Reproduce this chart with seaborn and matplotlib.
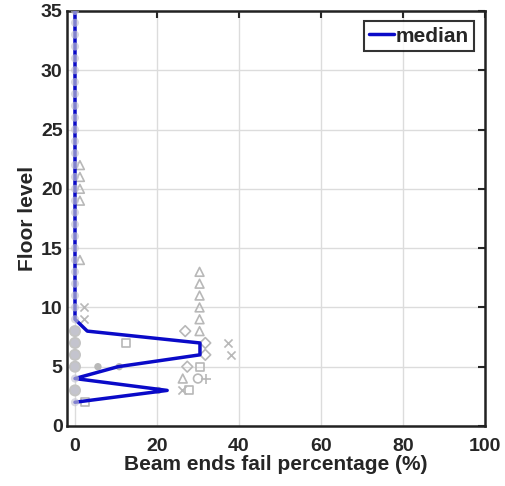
import matplotlib
matplotlib.use("Agg")
import matplotlib.pyplot as plt
import seaborn as sns
import numpy as np
import pandas as pd

# median curve per floor
median_floor = list(range(2, 36))
median_pct = [0, 22.5, 0, 10.5, 30.5, 30.5, 3] + [0] * 27

# individual record points (grey)
zero_floor = list(range(2, 36))
zero_pct = [0] * len(zero_floor)
big_floor = [3, 5, 6, 7, 8]
big_pct = [0, 0, 0, 0, 0]
dot_floor = [5, 5, 3]
dot_pct = [5.6, 10.8, 20.3]
tri_floor = [8, 9, 10, 11, 12, 13, 4, 14, 19, 20, 21, 22]
tri_pct = [30.4, 30.4, 30.4, 30.4, 30.4, 30.4, 26.3, 1.2, 1.2, 1.2, 1.2, 1.2]
dia_floor = [8, 7, 6, 5]
dia_pct = [26.9, 31.8, 31.8, 27.4]
sq_floor = [7, 5, 2, 3]
sq_pct = [12.4, 30.6, 2.4, 27.9]
ring_floor = [4]
ring_pct = [30.0]
plus_floor = [4]
plus_pct = [32.0]
x_floor = [10, 9, 7, 6, 3]
x_pct = [2.3, 2.3, 37.4, 38.0, 26.1]

sns.set_style("white")
plt.rcParams['font.family'] = ['Liberation Sans', 'DejaVu Sans']
plt.rcParams['font.weight'] = 'bold'

fig = plt.figure(figsize=(5.06, 4.86), dpi=100)
ax = fig.add_axes([0.132, 0.1235, 0.826, 0.854])

grey = '#b8b8b8'
hollow = dict(facecolor='none', edgecolor=grey, linewidth=1.2, s=40, zorder=2, legend=False)
sns.scatterplot(x=tri_pct, y=tri_floor, marker='^', ax=ax, **hollow)
sns.scatterplot(x=dia_pct, y=dia_floor, marker='D', ax=ax, **dict(hollow, s=30))
sns.scatterplot(x=sq_pct, y=sq_floor, marker='s', ax=ax, **dict(hollow, s=32))
sns.scatterplot(x=ring_pct, y=ring_floor, marker='o', ax=ax, **hollow)
sns.scatterplot(x=plus_pct, y=plus_floor, marker='+', color=grey, s=55, linewidth=1.2, ax=ax, zorder=2, legend=False)
sns.scatterplot(x=x_pct, y=x_floor, marker='x', color=grey, s=34, linewidth=1.2, ax=ax, zorder=2, legend=False)
sns.scatterplot(x=dot_pct, y=dot_floor, marker='o', color=grey, s=28, edgecolor='none', ax=ax, zorder=2, legend=False)
sns.scatterplot(x=big_pct, y=big_floor, marker='o', color='#c4c4c4', s=75, edgecolor='none', ax=ax, zorder=2, legend=False)

sns.lineplot(x=median_pct, y=median_floor, sort=False, orient='y', color='#0a0ac8', linewidth=2.5,
             ax=ax, zorder=3, label='median')

sns.scatterplot(x=zero_pct, y=zero_floor, marker='o', color='#c4c4d4', alpha=0.65, s=34, edgecolor='none',
                ax=ax, zorder=4, legend=False)

ax.set_xlim(-2, 100)
ax.set_ylim(0, 35)
ax.set_xticks([0, 20, 40, 60, 80, 100])
ax.set_yticks([0, 5, 10, 15, 20, 25, 30, 35])
ax.grid(True, color='#dcdcdc', linewidth=1)
ax.set_axisbelow(True)
ax.tick_params(direction='in', length=5, width=1.5, top=True, right=True, labelsize=14)
ax.tick_params(axis='x', pad=9)
ax.tick_params(axis='y', pad=3)
for lab in ax.get_xticklabels() + ax.get_yticklabels():
    lab.set_fontweight('bold')
for sp in ax.spines.values():
    sp.set_linewidth(1.8)
    sp.set_color('#222222')

ax.set_xlabel('Beam ends fail percentage (%)', fontsize=15, fontweight='bold', labelpad=0)
ax.set_ylabel('Floor level', fontsize=15, fontweight='bold', labelpad=3)

leg = ax.legend(loc='upper right', fontsize=15, frameon=True, fancybox=False, handlelength=1.2,
                handletextpad=0.1, borderpad=0.25, borderaxespad=0.5)
leg.get_frame().set_edgecolor('black')
leg.get_frame().set_linewidth(1.5)
for t in leg.get_texts():
    t.set_fontweight('bold')

fig.savefig('out.png', dpi=100)
